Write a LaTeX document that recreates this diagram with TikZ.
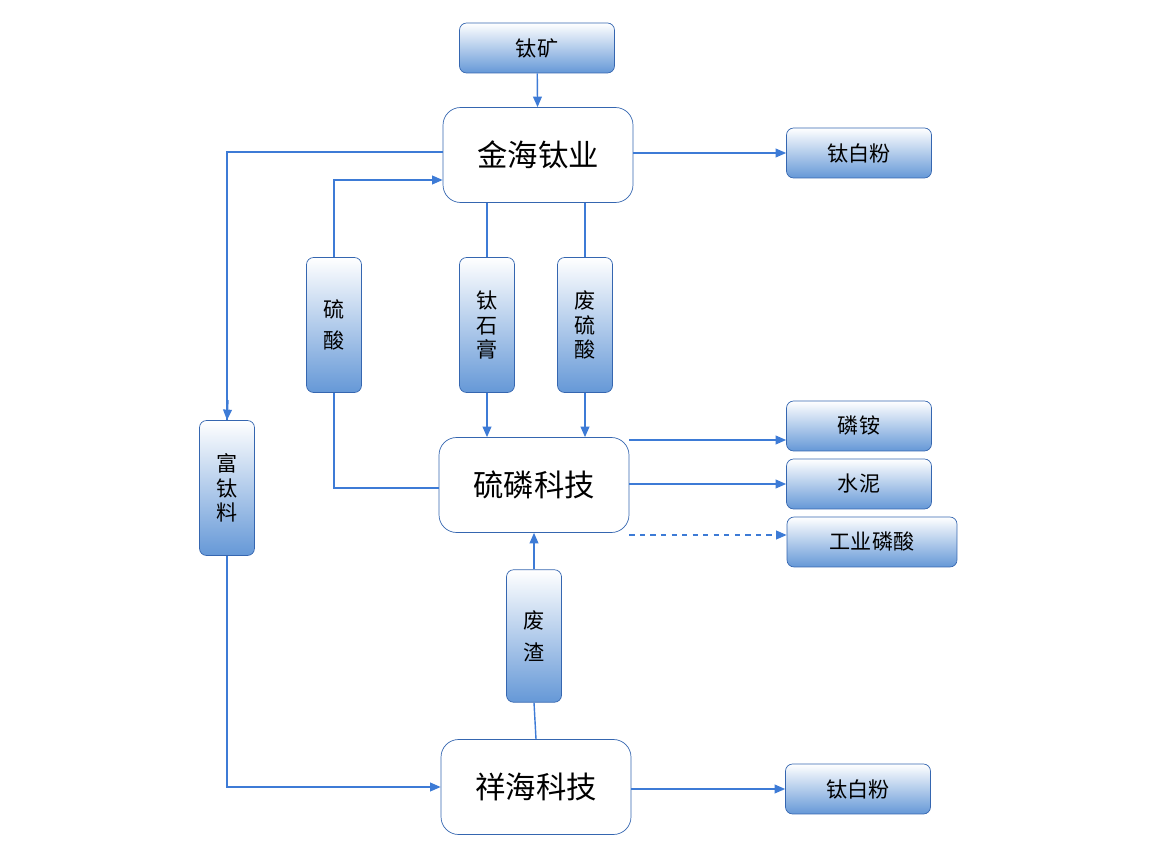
\documentclass[tikz,border=0pt]{standalone}
\usepackage{fontspec}
\newfontfamily\cjk{Noto Sans CJK SC}
\usetikzlibrary{arrows.meta,positioning}
\definecolor{lineblue}{HTML}{3D7BD6}
\definecolor{boxblue}{HTML}{4A86D0}
\definecolor{edgeblue}{HTML}{3566B0}
\tikzset{
  prod/.style={draw=edgeblue, rounded corners=4pt, top color=white, bottom color=boxblue!85,
    minimum width=#1, minimum height=1cm, font=\cjk\large, text=black},
  prod/.default=2.9cm,
  mid/.style={draw=edgeblue, rounded corners=4pt, top color=white, bottom color=boxblue!85,
    minimum width=1.1cm, minimum height=2.7cm, align=center, font=\cjk\large, text=black},
  firm/.style={draw=edgeblue, rounded corners=10pt, fill=white, minimum width=3.8cm,
    minimum height=1.9cm, font=\cjk\LARGE},
  flow/.style={lineblue, thick, -{Triangle[width=5pt,length=6pt]}},
  link/.style={lineblue, thick}
}
\begin{document}
\begin{tikzpicture}[x=0.02cm, y=-0.02cm]
    \useasboundingbox (0,0) rectangle (1176,854);

    % Companies
    \node[firm] (jinhai) at (538,155) {金海钛业};
    \node[firm] (liulin) at (534,485) {硫磷科技};
    \node[firm] (xianghai) at (536,787) {祥海科技};

    % Inputs and products
    \node[prod=3.1cm] (ore) at (537,48) {钛矿};
    \node[prod] (tio2a) at (859,153) {钛白粉};
    \node[prod] (dap) at (859,426) {磷铵};
    \node[prod] (cement) at (859,484) {水泥};
    \node[prod=3.4cm] (acid) at (872,542) {工业磷酸};
    \node[prod] (tio2b) at (858,789) {钛白粉};

    % Intermediate materials
    \node[mid] (h2so4) at (334,325) {硫\\[4pt]酸};
    \node[mid] (gyps) at (487,325) {钛\\石\\膏};
    \node[mid] (waste) at (585,325) {废\\硫\\酸};
    \node[mid] (slag) at (227,488) {富\\钛\\料};
    \node[mid, minimum height=2.65cm] (dreg) at (534,636) {废\\[4pt]渣};

    % Flows
    \draw[flow] (ore) -- (jinhai);
    \draw[flow] (jinhai.east |- tio2a) -- (tio2a);
    \draw[link] (jinhai.west |- 0,152) -| (slag.north) node[pos=0.999, coordinate] (s1) {};
    \draw[flow] (228,400) -- (slag.north);
    \draw[flow] (slag.south) |- (xianghai.west);
    \draw[link] (liulin.west |- 0,488) -| (h2so4.south);
    \draw[flow] (h2so4.north) |- (jinhai.west |- 0,180);
    \draw[link] (jinhai.south -| gyps) -- (gyps.north);
    \draw[flow] (gyps.south) -- (liulin.north -| gyps);
    \draw[link] (jinhai.south -| waste) -- (waste.north);
    \draw[flow] (waste.south) -- (liulin.north -| waste);
    \draw[link] (xianghai.north) -- (dreg.south);
    \draw[flow] (dreg.north) -- (liulin.south);
    \draw[flow] (liulin.east |- 0,440) -- (dap.west |- 0,440);
    \draw[flow] (liulin.east |- cement) -- (cement);
    \draw[flow, dashed] (liulin.east |- 0,535) -- (acid.west |- 0,535);
    \draw[flow] (xianghai.east |- tio2b) -- (tio2b);
\end{tikzpicture}
\end{document}
